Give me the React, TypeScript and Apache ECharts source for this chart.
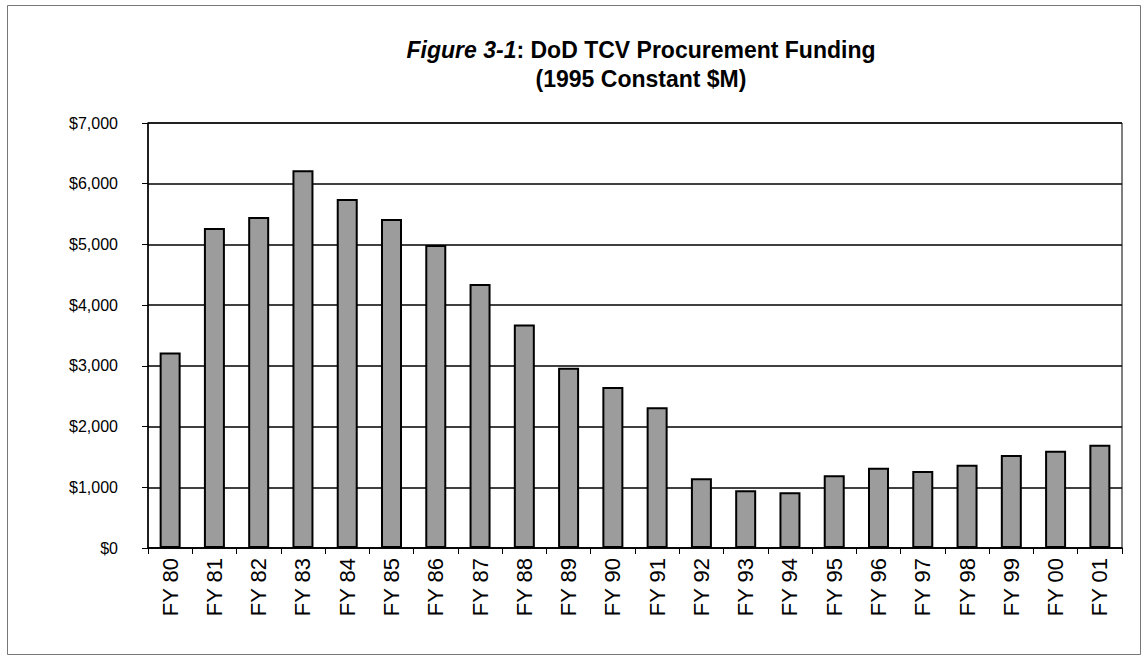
import React, { useEffect, useRef } from "react";
import * as echarts from "echarts";

const categories = [
  "FY 80", "FY 81", "FY 82", "FY 83", "FY 84", "FY 85", "FY 86", "FY 87",
  "FY 88", "FY 89", "FY 90", "FY 91", "FY 92", "FY 93", "FY 94", "FY 95",
  "FY 96", "FY 97", "FY 98", "FY 99", "FY 00", "FY 01",
];
const funding = [
  3220, 5270, 5450, 6220, 5750, 5420, 4990, 4350,
  3680, 2970, 2650, 2320, 1150, 950, 920, 1200,
  1320, 1270, 1370, 1530, 1600, 1700,
];
const titleLine1Italic = "Figure 3-1";
const titleLine1Rest = ": DoD TCV Procurement Funding";
const titleLine2 = "(1995 Constant $M)";

const FONT = "'Liberation Sans', Arial, Helvetica, sans-serif";

export default function App() {
  const ref = useRef<HTMLDivElement>(null);
  useEffect(() => {
    if (!ref.current) return;
    const chart = echarts.init(ref.current, null, { renderer: "svg" });
    chart.setOption({
      animation: false,
      backgroundColor: "#ffffff",
      textStyle: { fontFamily: FONT },
      graphic: [
        {
          type: "rect",
          shape: { x: 7.5, y: 5.5, width: 1133, height: 649 },
          style: { fill: "none", stroke: "#777", lineWidth: 1 },
          silent: true,
        },
        {
          type: "text",
          x: 641,
          y: 50,
          style: {
            text: `{i|${titleLine1Italic}}{b|${titleLine1Rest}}`,
            textAlign: "center",
            textVerticalAlign: "middle",
            rich: {
              i: { fontFamily: FONT, fontSize: 23, fontWeight: "bold", fontStyle: "italic", fill: "#000" },
              b: { fontFamily: FONT, fontSize: 23, fontWeight: "bold", fill: "#000" },
            },
          },
        },
        {
          type: "text",
          x: 641,
          y: 79,
          style: {
            text: titleLine2,
            textAlign: "center",
            textVerticalAlign: "middle",
            fontFamily: FONT,
            fontSize: 23,
            fontWeight: "bold",
            fill: "#000",
          },
        },
      ],
      grid: {
        left: 148,
        right: 24,
        top: 123,
        bottom: 109,
        show: true,
        borderColor: "#000",
        borderWidth: 1,
        containLabel: false,
      },
      xAxis: {
        type: "category",
        data: categories,
        axisLine: { show: true, lineStyle: { color: "#000", width: 1.5 } },
        axisTick: { show: true, length: 6, lineStyle: { color: "#000" } },
        axisLabel: {
          rotate: 90,
          interval: 0,
          color: "#000",
          fontFamily: FONT,
          fontSize: 22,
          margin: 10,
        },
      },
      yAxis: {
        type: "value",
        min: 0,
        max: 7000,
        interval: 1000,
        axisLine: { show: true, lineStyle: { color: "#000", width: 1.5 } },
        axisTick: { show: true, length: 6, lineStyle: { color: "#000" } },
        splitLine: { show: true, lineStyle: { color: "#000", width: 1.5 } },
        axisLabel: {
          color: "#000",
          fontFamily: FONT,
          fontSize: 16,
          margin: 30,
          formatter: (v: number) => "$" + v.toLocaleString("en-US"),
        },
      },
      series: [
        {
          type: "bar",
          data: funding,
          barWidth: 21,
          itemStyle: { color: "#9c9c9c", borderColor: "#000", borderWidth: 2 },
        },
      ],
    });
    return () => chart.dispose();
  }, []);
  return (
    <div
      ref={ref}
      style={{ position: "absolute", left: 0, top: 0, width: 1146, height: 657 }}
    />
  );
}
